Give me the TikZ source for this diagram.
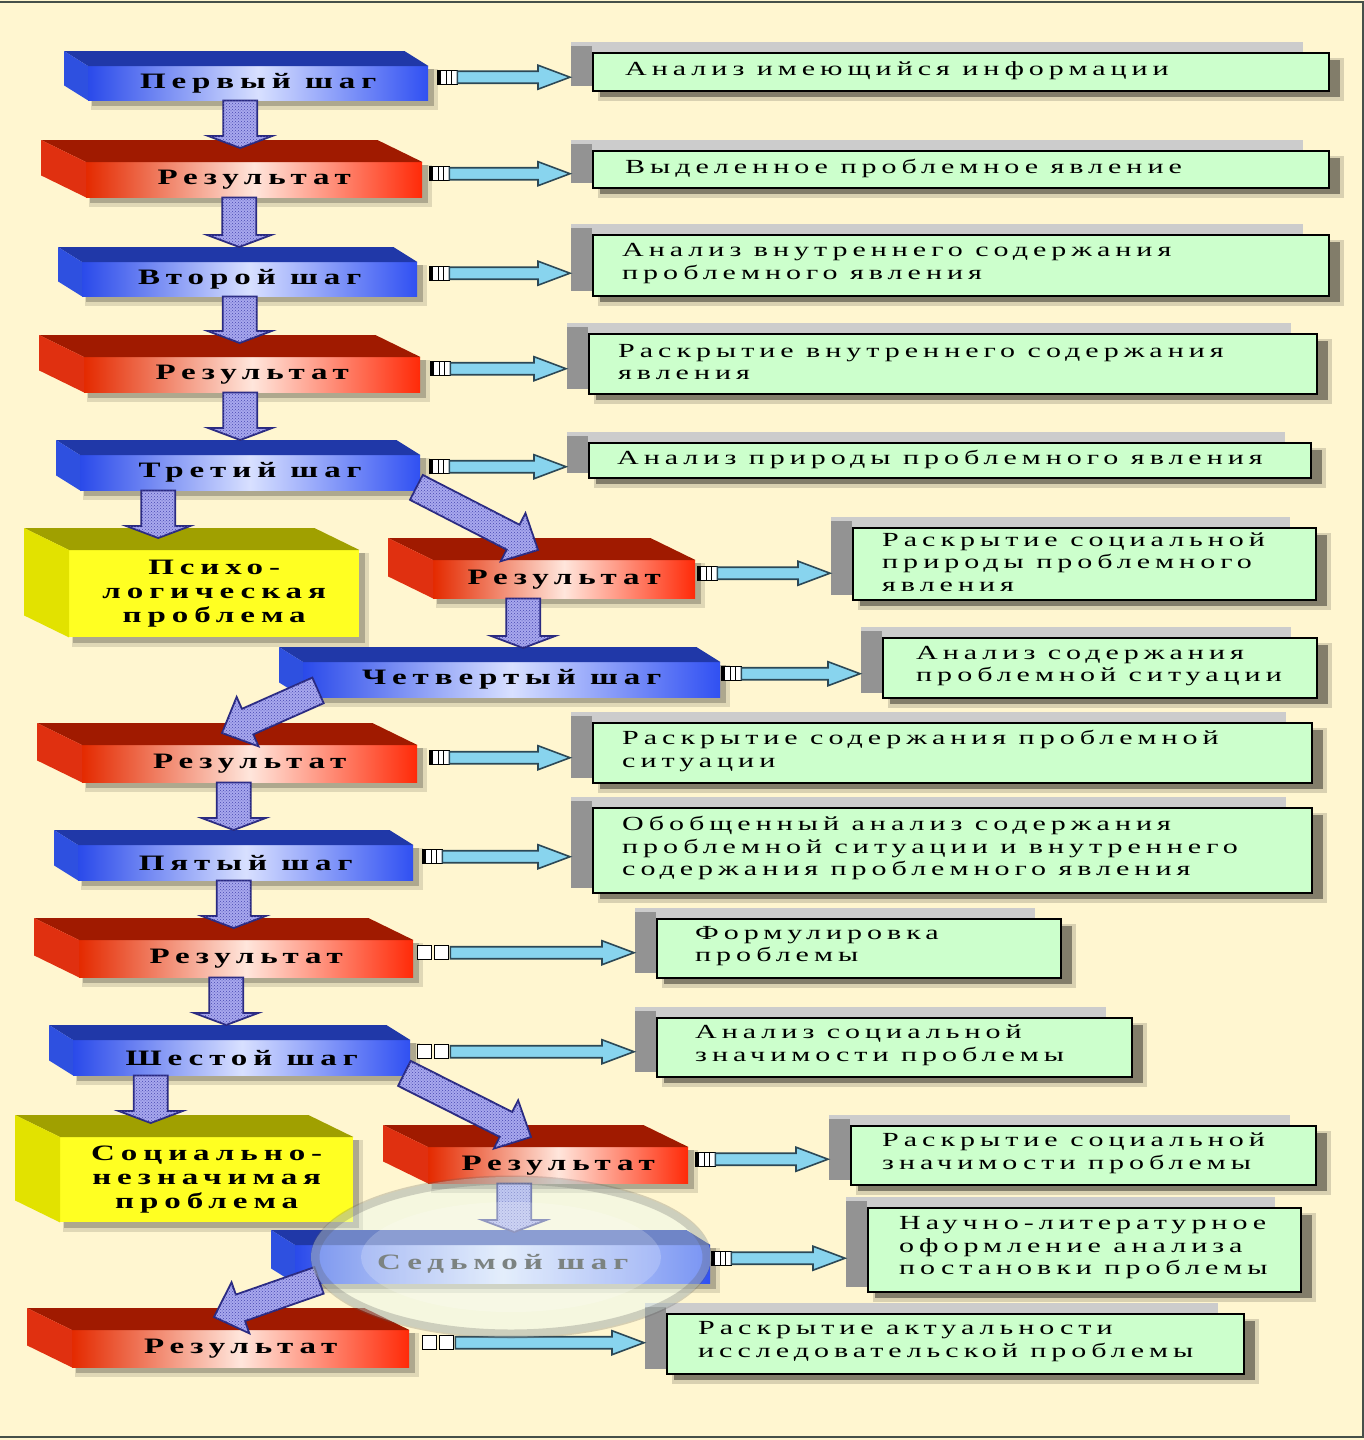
\documentclass[tikz,border=0pt]{standalone}
\usepackage{fontspec}
\setmainfont{Liberation Serif}
\newfontfamily\gfont{Liberation Serif}[FakeStretch=1.5,LetterSpace=25]
\newfontfamily\bfont{Liberation Serif}[FakeStretch=1.5,LetterSpace=27]
\usetikzlibrary{calc,patterns}
\pgfdeclarelayer{bg}\pgfdeclarelayer{shadow}\pgfdeclarelayer{top}
\pgfsetlayers{bg,shadow,main,top}

\definecolor{bgc}{HTML}{FFF6D0}
\definecolor{grn}{HTML}{CCFFCC}
\definecolor{bluL}{HTML}{2A4AEA}
\definecolor{bluM}{HTML}{D8E0FF}
\definecolor{bluR}{HTML}{3050F2}
\definecolor{bluT}{HTML}{2038A8}
\definecolor{bluS}{HTML}{2E50E0}
\definecolor{redL}{HTML}{E42A00}
\definecolor{redM}{HTML}{FFE6DC}
\definecolor{redR}{HTML}{FF2A08}
\definecolor{redT}{HTML}{A01A00}
\definecolor{redS}{HTML}{E03010}
\definecolor{yelF}{HTML}{FFFF22}
\definecolor{yelT}{HTML}{A0A000}
\definecolor{yelS}{HTML}{E2E200}
\definecolor{hatF}{HTML}{A8A8EE}
\definecolor{hatP}{HTML}{4848B0}
\definecolor{hatD}{HTML}{2A2A80}
\definecolor{cyF}{HTML}{88D4EE}
\definecolor{cyD}{HTML}{2C4856}
\definecolor{frm}{HTML}{46504A}
\definecolor{glass}{HTML}{E6FAF6}

\tikzset{
  boxfont/.style={font=\bfont\bfseries\fontsize{22}{24}\selectfont},
  bluefront/.style={left color=bluL, right color=bluR, middle color=bluM, boxfont},
  bluetop/.style={fill=bluT},
  blueside/.style={fill=bluS},
  redfront/.style={left color=redL, right color=redR, middle color=redM, boxfont},
  redtop/.style={fill=redT},
  redside/.style={fill=redS},
  yelfront/.style={fill=yelF, boxfont, align=center},
  yeltop/.style={fill=yelT},
  yelside/.style={fill=yelS},
  gboxst/.style={draw=black, line width=1.6pt, fill=grn, inner sep=0pt},
  gtext/.style={font=\gfont\fontsize{20}{22.5}\selectfont, align=left, inner sep=0pt, anchor=west},
  hatch/.style={fill=hatF, draw=hatD, line width=1.8pt, line join=miter,
    postaction={pattern=crosshatch dots, pattern color=hatP}},
  cyarr/.style={fill=cyF, draw=cyD, line width=1.6pt, line join=miter},
}

% 3D box: name, x, y (front north west), width, height, dx, dy, kind, text
\newcommand\tdbox[9]{%
  \begin{pgfonlayer}{shadow}
    \fill[black,opacity=.12] (#2+3,#3+3) rectangle (#2+#4+10,#3+#5+10);
    \fill[black,opacity=.22] (#2+4,#3+3) rectangle (#2+#4+6,#3+#5+6);
  \end{pgfonlayer}
  \node[#8front, minimum width=#4pt, minimum height=#5pt, inner sep=0pt, anchor=north west] (#1) at (#2,#3) {#9};
  \fill[#8top] (#1.north west) -- (#1.north east) -- ++(#6,#7) -- ($(#1.north west)+(#6,#7)$) -- cycle;
  \fill[#8side] (#1.north west) -- ($(#1.north west)+(#6,#7)$) -- ($(#1.south west)+(#6,#7)$) -- (#1.south west) -- cycle;
}

% green box: name, x, y, width, height
\newcommand\gbox[5]{%
  \begin{pgfonlayer}{shadow}
    \fill[black,opacity=.15] (#2+6,#3+6) rectangle (#2+#4+16,#3+#5+11);
    \fill[black,opacity=.40] (#2+8,#3+8) rectangle (#2+#4+12,#3+#5+7);
    \fill[gray!40] (#2-21,#3-10) rectangle (#2+#4-25,#3+#5-4);
    \fill[gray!85] (#2-21,#3-6) rectangle (#2,#3+#5-4);
  \end{pgfonlayer}
  \node[gboxst, minimum width=#4pt, minimum height=#5pt, anchor=north west] (#1) at (#2,#3) {};
}

% block arrow: start, tip, half shaft, half head, head length, style
\newcommand\blockarrow[6]{%
  \path (#1) coordinate (ba-s);
  \path (#2) coordinate (ba-e);
  \path ($(ba-e)!#5pt!(ba-s)$) coordinate (ba-h);
  \draw[#6] ($(ba-s)!#3pt!90:(ba-e)$) -- ($(ba-h)!#3pt!-90:(ba-s)$) -- ($(ba-h)!#4pt!-90:(ba-s)$)
     -- (ba-e) -- ($(ba-h)!#4pt!90:(ba-s)$) -- ($(ba-h)!#3pt!90:(ba-s)$) -- ($(ba-s)!#3pt!-90:(ba-e)$) -- cycle;
}

% vertical hatched arrow: from node, to node, x offset, tip rise
\newcommand\varr[4]{%
  \blockarrow{$(#1.south)+(#3,0)$}{$(ba-s |- #2.north)+(0,-#4)$}{17}{32}{12}{hatch}%
}

% horizontal connector: from node, to node, gap, plug kind (1 stripes, 2 squares)
\newcommand\harr[4]{%
  \path ($(#1.east)+(#3,-6)$) coordinate (ha-s);
  \path ($(ha-s -| #2.west)+(-22,0)$) coordinate (ha-e);
  \ifnum#4=1
    \filldraw[fill=white, draw=black, line width=1.3pt] ($(ha-s)+(0,-7)$) rectangle ($(ha-s)+(20,7)$);
    \fill[black] ($(ha-s)+(0,-7)$) rectangle ($(ha-s)+(4,7)$);
    \draw[black, line width=1.3pt] ($(ha-s)+(9,-7)$) -- ($(ha-s)+(9,7)$) ($(ha-s)+(14,-7)$) -- ($(ha-s)+(14,7)$);
    \blockarrow{$(ha-s)+(20,0)$}{ha-e}{6}{12}{32}{cyarr}
  \else
    \filldraw[fill=white, draw=black, line width=1.3pt] ($(ha-s)+(0,-7)$) rectangle ($(ha-s)+(14,7)$);
    \filldraw[fill=white, draw=black, line width=1.3pt] ($(ha-s)+(17,-7)$) rectangle ($(ha-s)+(31,7)$);
    \blockarrow{$(ha-s)+(33,0)$}{ha-e}{6}{12}{32}{cyarr}
  \fi
}

\begin{document}
\begin{tikzpicture}[x=1pt,y=-1pt]
\useasboundingbox (0,0) rectangle (1364,1440);
\begin{pgfonlayer}{bg}
  \fill[bgc] (0,0) rectangle (1364,1440);
\end{pgfonlayer}
\draw[frm, line width=2pt] (0,1.5) -- (1362.5,1.5) -- (1362.5,1437) -- (0,1437);

% left column 3D boxes
\tdbox{b1}{88}{66}{340}{34}{-24}{-15}{blue}{Первый шаг}
\tdbox{r1}{86}{162}{336}{35}{-45}{-22}{red}{Результат}
\tdbox{b2}{82}{262}{335}{34}{-24}{-15}{blue}{Второй шаг}
\tdbox{r2}{84}{357}{336}{35}{-45}{-22}{red}{Результат}
\tdbox{b3}{80}{455}{340}{35}{-24}{-15}{blue}{Третий шаг}
\tdbox{y1}{69}{550}{290}{87}{-45}{-22}{yel}{Психо-\\логическая\\проблема}
\tdbox{r3}{433}{560}{262}{38}{-45}{-22}{red}{Результат}
\tdbox{b4}{303}{662}{417}{35}{-24}{-15}{blue}{Четвертый шаг}
\tdbox{r4}{82}{745}{335}{37}{-45}{-22}{red}{Результат}
\tdbox{b5}{78}{845}{335}{35}{-24}{-15}{blue}{Пятый шаг}
\tdbox{r5}{79}{940}{334}{37}{-45}{-22}{red}{Результат}
\tdbox{b6}{73}{1040}{337}{35}{-24}{-15}{blue}{Шестой шаг}
\tdbox{y2}{60}{1137}{293}{85}{-45}{-22}{yel}{Социально-\\незначимая\\проблема}
\tdbox{r6}{428}{1147}{260}{36}{-45}{-22}{red}{Результат}
\tdbox{b7}{295}{1245}{415}{38}{-24}{-15}{blue}{Седьмой шаг}
\tdbox{r7}{72}{1330}{337}{37}{-45}{-22}{red}{Результат}

% green boxes
\gbox{g1}{592}{52}{736}{38}
\gbox{g2}{592}{150}{736}{37}
\gbox{g3}{592}{234}{736}{61}
\gbox{g4}{588}{333}{728}{60}
\gbox{g5}{588}{442}{722}{35}
\gbox{g6}{852}{527}{463}{72}
\gbox{g7}{882}{637}{434}{60}
\gbox{g8}{592}{722}{719}{60}
\gbox{g9}{592}{807}{719}{85}
\gbox{g10}{656}{918}{404}{59}
\gbox{g11}{656}{1017}{475}{59}
\gbox{g12}{850}{1125}{465}{59}
\gbox{g13}{867}{1207}{433}{84}
\gbox{g14}{666}{1313}{577}{60}

\node[gtext] (g1t) at ($(g1.west)+(33,-1)$) {Анализ имеющийся информации};
\node[gtext] (g2t) at ($(g2.west)+(33,-1)$) {Выделенное проблемное явление};
\node[gtext] (g3t) at ($(g3.west)+(30,-2)$) {Анализ внутреннего содержания\\проблемного явления};
\node[gtext] (g4t) at ($(g4.west)+(30,-2)$) {Раскрытие внутреннего содержания\\явления};
\node[gtext] (g5t) at ($(g5.west)+(29,-1)$) {Анализ природы проблемного явления};
\node[gtext] (g6t) at ($(g6.west)+(30,-2)$) {Раскрытие социальной\\природы проблемного\\явления};
\node[gtext] (g7t) at ($(g7.west)+(34,-2)$) {Анализ содержания\\проблемной ситуации};
\node[gtext] (g8t) at ($(g8.west)+(30,-2)$) {Раскрытие содержания проблемной\\ситуации};
\node[gtext] (g9t) at ($(g9.west)+(30,-2)$) {Обобщенный анализ содержания\\проблемной ситуации и внутреннего\\содержания проблемного явления};
\node[gtext] (g10t) at ($(g10.west)+(39,-2)$) {Формулировка\\проблемы};
\node[gtext] (g11t) at ($(g11.west)+(39,-2)$) {Анализ социальной\\значимости проблемы};
\node[gtext] (g12t) at ($(g12.west)+(32,-2)$) {Раскрытие социальной\\значимости проблемы};
\node[gtext] (g13t) at ($(g13.west)+(32,-2)$) {Научно-литературное\\оформление анализа\\постановки проблемы};
\node[gtext] (g14t) at ($(g14.west)+(32,-2)$) {Раскрытие актуальности\\исследовательской проблемы};

% vertical hatched arrows
\varr{b1}{r1}{-18}{14}
\varr{r1}{b2}{-15}{15}
\varr{b2}{r2}{-10}{14}
\varr{r2}{b3}{-12}{15}
\varr{b3}{y1}{-92}{12}
\varr{r3}{b4}{-41}{14}
\varr{r4}{b5}{-16}{15}
\varr{b5}{r5}{-12}{12}
\varr{r5}{b6}{-20}{15}
\varr{b6}{y2}{-91}{14}
\varr{r6}{b7}{-44}{13}

% diagonal hatched arrows
\blockarrow{$(b3.south east)+(-4,-3)$}{$(r3.north west)+(105,-10)$}{14}{27}{28}{hatch}
\blockarrow{$(b4.south west)+(15,-7)$}{$(r4.north west)+(140,-12)$}{14}{27}{28}{hatch}
\blockarrow{$(b6.south east)+(-6,-2)$}{$(r6.north west)+(103,-10)$}{14}{27}{28}{hatch}
\blockarrow{$(b7.south west)+(24,-3)$}{$(r7.north west)+(142,-13)$}{14}{27}{28}{hatch}

% horizontal connectors
\harr{b1}{g1}{9}{1}
\harr{r1}{g2}{7}{1}
\harr{b2}{g3}{12}{1}
\harr{r2}{g4}{10}{1}
\harr{b3}{g5}{9}{1}
\harr{r3}{g6}{2}{1}
\harr{b4}{g7}{1}{1}
\harr{r4}{g8}{12}{1}
\harr{b5}{g9}{9}{1}
\harr{r5}{g10}{4}{2}
\harr{b6}{g11}{7}{2}
\harr{r6}{g12}{7}{1}
\harr{b7}{g13}{1}{1}
\harr{r7}{g14}{13}{2}

% glass lens over the seventh step
\begin{pgfonlayer}{top}
  \fill[glass, opacity=.40] (511,1257) ellipse [x radius=200, y radius=80];
  \fill[white, opacity=.20] (511,1257) ellipse [x radius=150, y radius=55];
  \draw[gray!70!black, opacity=.25, line width=9pt] (511,1257) ellipse [x radius=196, y radius=77];
\end{pgfonlayer}
\end{tikzpicture}
\end{document}
